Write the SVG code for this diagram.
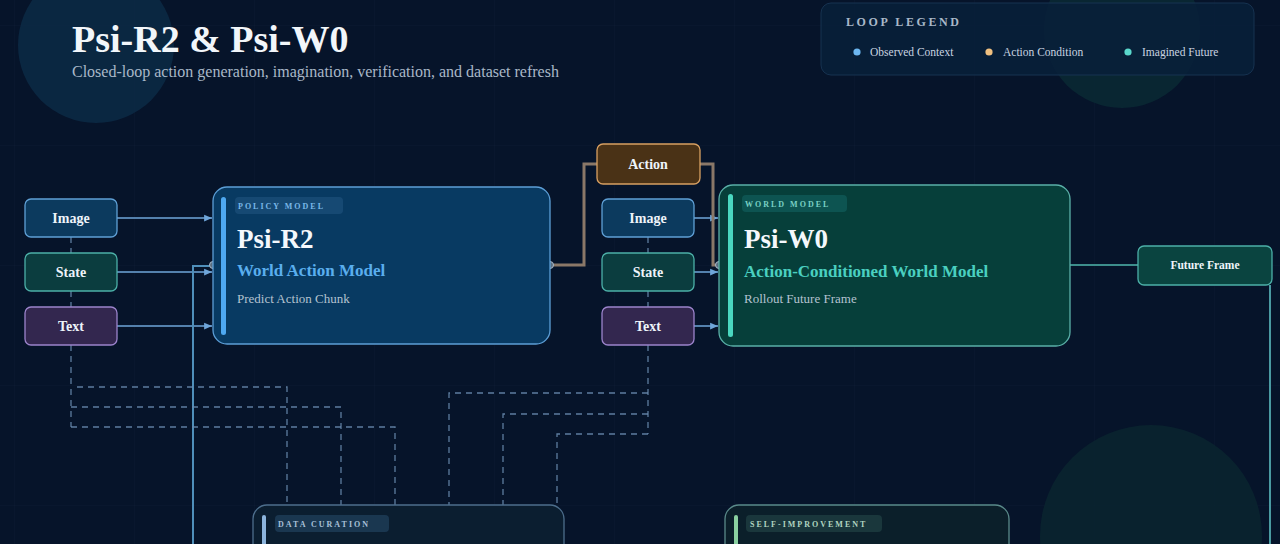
<svg xmlns="http://www.w3.org/2000/svg" width="1280" height="544" viewBox="0 0 1280 544">
<defs>
<style>
.serif{font-family:"Liberation Serif","Times New Roman",serif}
.inlbl{font-family:"Liberation Serif",serif;font-weight:bold;font-size:14px;fill:#eef4fa;text-anchor:middle}
.tag{font-family:"Liberation Serif",serif;font-weight:bold;font-size:8px;letter-spacing:2px}
.big{font-family:"Liberation Serif",serif;font-weight:bold;font-size:27px;fill:#f4f8fc}
.sub{font-family:"Liberation Serif",serif;font-weight:bold;font-size:17px}
.desc{font-family:"Liberation Serif",serif;font-size:13px;fill:#b4c2d0}
.leg{font-family:"Liberation Serif",serif;font-size:11.5px;fill:#c8d4e0}
.img{fill:#0c3a5e;stroke:#5fa0d6;stroke-width:1.3}
.st{fill:#0b3d3f;stroke:#4cb0a8;stroke-width:1.3}
.tx{fill:#33274f;stroke:#9c84cc;stroke-width:1.3}
.ctx{stroke:#6fa6da;stroke-width:1.5;fill:none}
.dash{stroke:#6c8fb4;stroke-width:1.3;fill:none;stroke-dasharray:6 5;opacity:0.85}
.act{stroke:#8a7868;stroke-width:3;fill:none}
.dot{fill:#5a6e80;stroke:#a8b8c8;stroke-width:1}
</style>
<marker id="ah" viewBox="0 0 8 8" refX="7" refY="4" markerWidth="6" markerHeight="6" orient="auto">
<path d="M0,1 L7,4 L0,7 z" fill="#6fa6da"/>
</marker>
<pattern id="grid" width="120" height="120" patternUnits="userSpaceOnUse" x="14" y="25">
<path d="M120,0 L0,0 0,120" fill="none" stroke="#1a2e44" stroke-width="1" opacity="0.25"/>
</pattern>
</defs>
<rect width="1280" height="544" fill="#06142a"/>
<rect width="1280" height="544" fill="url(#grid)"/>
<circle cx="96" cy="45" r="78" fill="#0c2a45" opacity="0.85"/>
<circle cx="1122" cy="30" r="78" fill="#0a2a34" opacity="0.8"/>
<circle cx="1151" cy="536" r="111" fill="#0a2530" opacity="0.8"/>

<g id="title">
<text x="72" y="52" class="serif" font-size="38" font-weight="bold" fill="#f2f6fa">Psi-R2 &amp; Psi-W0</text>
<text x="72" y="77" class="serif" font-size="16" fill="#a9b8c8">Closed-loop action generation, imagination, verification, and dataset refresh</text>
</g>

<g id="legend">
<rect x="821" y="3" width="433" height="72" rx="10" fill="#08203a" fill-opacity="0.85" stroke="#163250" stroke-width="1"/>
<text x="846" y="26" class="serif" font-size="12" font-weight="bold" letter-spacing="2.6" fill="#a9b8c8">LOOP LEGEND</text>
<circle cx="857" cy="52" r="3.6" fill="#6cb6f0"/>
<text x="870" y="56" class="leg">Observed Context</text>
<circle cx="989" cy="52" r="3.6" fill="#f0c080"/>
<text x="1003" y="56" class="leg">Action Condition</text>
<circle cx="1128" cy="52" r="3.6" fill="#5ad8cc"/>
<text x="1142" y="56" class="leg">Imagined Future</text>
</g>

<g id="connectors">
<line x1="117" y1="218" x2="212" y2="218" class="ctx" marker-end="url(#ah)"/>
<line x1="117" y1="272" x2="212" y2="272" class="ctx" marker-end="url(#ah)"/>
<line x1="117" y1="326" x2="212" y2="326" class="ctx" marker-end="url(#ah)"/>
<line x1="694" y1="218" x2="718" y2="218" class="ctx" marker-end="url(#ah)"/>
<line x1="694" y1="272" x2="718" y2="272" class="ctx" marker-end="url(#ah)"/>
<line x1="694" y1="326" x2="718" y2="326" class="ctx" marker-end="url(#ah)"/>
<line x1="71" y1="237" x2="71" y2="253" class="dash" stroke-dasharray="3 3"/>
<line x1="71" y1="291" x2="71" y2="307" class="dash" stroke-dasharray="3 3"/>
<line x1="648" y1="237" x2="648" y2="253" class="dash" stroke-dasharray="3 3"/>
<line x1="648" y1="291" x2="648" y2="307" class="dash" stroke-dasharray="3 3"/>
<path d="M550,265 H584 V164 H597" class="act"/>
<path d="M700,164 H713 V265 H719" class="act"/>
<line x1="1070" y1="265" x2="1138" y2="265" stroke="#3d8e8c" stroke-width="2"/>
<line x1="1270" y1="285" x2="1270" y2="544" stroke="#4a9aa2" stroke-width="2"/>
<path d="M213,266 H193 V544" stroke="#4f8fba" stroke-width="2" fill="none"/>
<path d="M71,345 V427" class="dash"/>
<path d="M77,387 H287 V505" class="dash"/>
<path d="M71,407 H341 V505" class="dash"/>
<path d="M71,427 H395 V505" class="dash"/>
<path d="M648,345 V434" class="dash"/>
<path d="M648,393 H449 V505" class="dash"/>
<path d="M648,414 H503 V505" class="dash"/>
<path d="M648,434 H557 V505" class="dash"/>
<circle cx="213" cy="265" r="3.5" class="dot"/>
<circle cx="550" cy="265" r="3.5" class="dot"/>
<circle cx="719" cy="265" r="3.5" class="dot"/>
</g>

<g id="in-image-1"><rect x="25" y="199" width="92" height="38" rx="6" class="img"/><text x="71" y="223" class="inlbl">Image</text></g>
<g id="in-state-1"><rect x="25" y="253" width="92" height="38" rx="6" class="st"/><text x="71" y="277" class="inlbl">State</text></g>
<g id="in-text-1"><rect x="25" y="307" width="92" height="38" rx="6" class="tx"/><text x="71" y="331" class="inlbl">Text</text></g>

<g id="policy-model">
<rect x="213" y="187" width="337" height="157" rx="14" fill="#083a62" stroke="#5c9ed6" stroke-width="1.3"/>
<rect x="221" y="197" width="5" height="138" rx="2.5" fill="#4ea8f0"/>
<rect x="235" y="197" width="108" height="17" rx="4" fill="#1a4d78" opacity="0.8"/>
<text x="238" y="209" class="tag" fill="#7ab8e8">POLICY MODEL</text>
<text x="237" y="248" class="big">Psi-R2</text>
<text x="237" y="276" class="sub" fill="#5aaeee">World Action Model</text>
<text x="237" y="303" class="desc">Predict Action Chunk</text>
</g>

<g id="action"><rect x="597" y="144" width="103" height="40" rx="6" fill="#4a3216" stroke="#d8a062" stroke-width="1.3"/><text x="648" y="169" class="inlbl">Action</text></g>

<g id="in-image-2"><rect x="602" y="199" width="92" height="38" rx="6" class="img"/><text x="648" y="223" class="inlbl">Image</text></g>
<g id="in-state-2"><rect x="602" y="253" width="92" height="38" rx="6" class="st"/><text x="648" y="277" class="inlbl">State</text></g>
<g id="in-text-2"><rect x="602" y="307" width="92" height="38" rx="6" class="tx"/><text x="648" y="331" class="inlbl">Text</text></g>

<g id="world-model">
<rect x="719" y="185" width="351" height="161" rx="14" fill="#063f3a" stroke="#5ab0a8" stroke-width="1.3"/>
<rect x="728" y="194" width="5" height="143" rx="2.5" fill="#4ad8c0"/>
<rect x="742" y="195" width="105" height="17" rx="4" fill="#0f5a58" opacity="0.8"/>
<text x="745" y="207" class="tag" fill="#7ad0c4">WORLD MODEL</text>
<text x="744" y="248" class="big">Psi-W0</text>
<text x="744" y="277" class="sub" fill="#4ad0c0">Action-Conditioned World Model</text>
<text x="744" y="303" class="desc">Rollout Future Frame</text>
</g>

<g id="future-frame"><rect x="1138" y="246" width="134" height="39" rx="6" fill="#0a4440" stroke="#4cb0a8" stroke-width="1.3"/><text x="1205" y="269" class="inlbl" style="font-size:11.5px">Future Frame</text></g>

<g id="data-curation">
<rect x="253" y="505" width="311" height="60" rx="14" fill="#0b1e30" stroke="#4d6e8c" stroke-width="1.3"/>
<rect x="262" y="515" width="4" height="40" rx="2" fill="#8cb4dc"/>
<rect x="275" y="515" width="114" height="17" rx="4" fill="#1c3a54" opacity="0.9"/>
<text x="278" y="527" class="tag" fill="#a8c0d8">DATA CURATION</text>
</g>

<g id="self-improvement">
<rect x="725" y="505" width="284" height="60" rx="14" fill="#0b1f2a" stroke="#5a8a8a" stroke-width="1.3"/>
<rect x="734" y="515" width="4" height="40" rx="2" fill="#8ad0a0"/>
<rect x="746" y="515" width="136" height="17" rx="4" fill="#1c3a3e" opacity="0.9"/>
<text x="750" y="527" class="tag" fill="#b0d4c0">SELF-IMPROVEMENT</text>
</g>
</svg>
